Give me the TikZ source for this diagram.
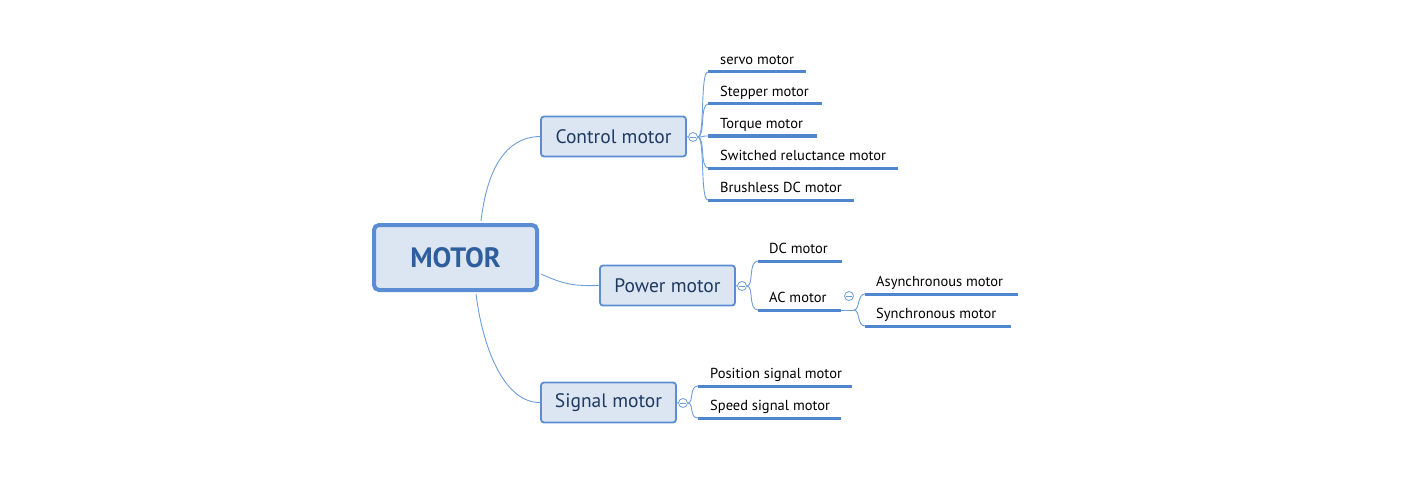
\documentclass[tikz,border=0pt]{standalone}
\usepackage{fontspec}
\setmainfont{PT Sans}
\definecolor{boxfill}{HTML}{DCE6F2}
\definecolor{boxline}{HTML}{5A8DD3}
\definecolor{boxtext}{HTML}{1F3A60}
\definecolor{roottext}{HTML}{2F5E9C}
\definecolor{uline}{HTML}{4F86CE}
\definecolor{cline}{HTML}{6E9DDA}
\tikzset{
  rootbox/.style={draw=boxline, line width=4pt, fill=boxfill, rounded corners=5pt,
    minimum width=163pt, minimum height=65pt, inner sep=0pt,
    font=\fontsize{28}{33}\selectfont\bfseries, text=roottext},
  subbox/.style={draw=boxline, line width=1.8pt, fill=boxfill, rounded corners=3pt,
    minimum height=40pt, inner sep=0pt, font=\fontsize{19.5}{23}\selectfont, text=boxtext},
  leaf/.style={anchor=base west, inner sep=0pt, font=\fontsize{14.5}{17}\selectfont, text=black},
  ul/.style={draw=uline, line width=3pt},
  conn/.style={draw=cline, line width=0.9pt},
  togg/.style={circle, draw=cline, line width=0.8pt, fill=white, minimum size=9pt, inner sep=0pt},
}
\newcommand{\togminus}[1]{\draw[cline, line width=0.8pt] ([xshift=2pt]#1.west) -- ([xshift=-2pt]#1.east);}
\begin{document}
\begin{tikzpicture}[x=1pt,y=-1pt]
\useasboundingbox (0,0) rectangle (1426,500);
% main boxes
\node[rootbox] (root) at (455.5,257.5) {MOTOR};
\node[subbox, minimum width=145pt] (ctrl) at (613.5,136.5) {Control motor};
\node[subbox, minimum width=135pt] (pow) at (667.5,285.5) {Power motor};
\node[subbox, minimum width=135pt] (sig) at (608.5,402.5) {\raisebox{-1pt}{Signal motor}};
% main connectors
\coordinate (rt) at (481,221);
\coordinate (rr) at (541,274);
\coordinate (rb) at (476,294);
\draw[conn] (rt) .. controls (487,170) and (505,137) .. (ctrl.west);
\draw[conn] (rr) .. controls (565,285) and (575,286) .. (pow.west);
\draw[conn] (rb) .. controls (483,350) and (505,403) .. (sig.west);
% toggles
\node[togg] (t1) at (693,137) {};
\node[togg] (t2) at (742,286) {};
\node[togg] (t3) at (849,296) {};
\node[togg] (t4) at (683,403) {};
\draw[conn] (ctrl.east) -- (t1.west);
\draw[conn] (pow.east) -- (t2.west);
\draw[conn] (sig.east) -- (t4.west);
% control children
\foreach \n/\y/\xr/\t in {a/72/806/servo motor, b/104/822/Stepper motor, c/136/817/Torque motor, d/168/898/Switched reluctance motor, e/200/854/Brushless DC motor}{
  \coordinate (c\n l) at (708,\y);
  \coordinate (c\n r) at (\xr,\y);
  \node[leaf] (c\n) at (720,\y-7.5) {\t};
  \draw[conn] (t1.east) .. controls (705,137) and (700,\y) .. (c\n l);
  \draw[ul] (c\n l) -- (c\n r);
}
% power children
\coordinate (pal) at (758,261); \coordinate (par) at (842,261);
\coordinate (pbl) at (758,310); \coordinate (pbr) at (841,310);
\node[leaf] (pa) at (769,253.5) {DC motor};
\node[leaf] (pb) at (769,302) {AC motor};
\draw[conn] (t2.east) .. controls (754,286) and (748,261) .. (pal);
\draw[conn] (t2.east) .. controls (754,286) and (748,310) .. (pbl);
\draw[ul] (pal) -- (par);
\draw[ul] (pbl) -- (pbr);
% AC children
\coordinate (acj) at (854,310);
\coordinate (qal) at (865,294); \coordinate (qar) at (1018,294);
\coordinate (qbl) at (865,326); \coordinate (qbr) at (1011,326);
\node[leaf] (qa) at (876,286) {Asynchronous motor};
\node[leaf] (qb) at (876,318) {Synchronous motor};
\draw[conn] (pbr) -- (acj);
\draw[conn] (acj) .. controls (860,310) and (857,294) .. (qal);
\draw[conn] (acj) .. controls (860,310) and (857,326) .. (qbl);
\draw[ul] (qal) -- (qar);
\draw[ul] (qbl) -- (qbr);
% signal children
\coordinate (sal) at (698,386); \coordinate (sar) at (852,386);
\coordinate (sbl) at (698,418); \coordinate (sbr) at (841,418);
\node[leaf] (sa) at (710,378.5) {Position signal motor};
\node[leaf] (sb) at (710,410.5) {Speed signal motor};
\draw[conn] (t4.east) .. controls (694,403) and (689,386) .. (sal);
\draw[conn] (t4.east) .. controls (694,403) and (689,418) .. (sbl);
\draw[ul] (sal) -- (sar);
\draw[ul] (sbl) -- (sbr);
\togminus{t1}\togminus{t2}\togminus{t3}\togminus{t4}
\end{tikzpicture}
\end{document}
